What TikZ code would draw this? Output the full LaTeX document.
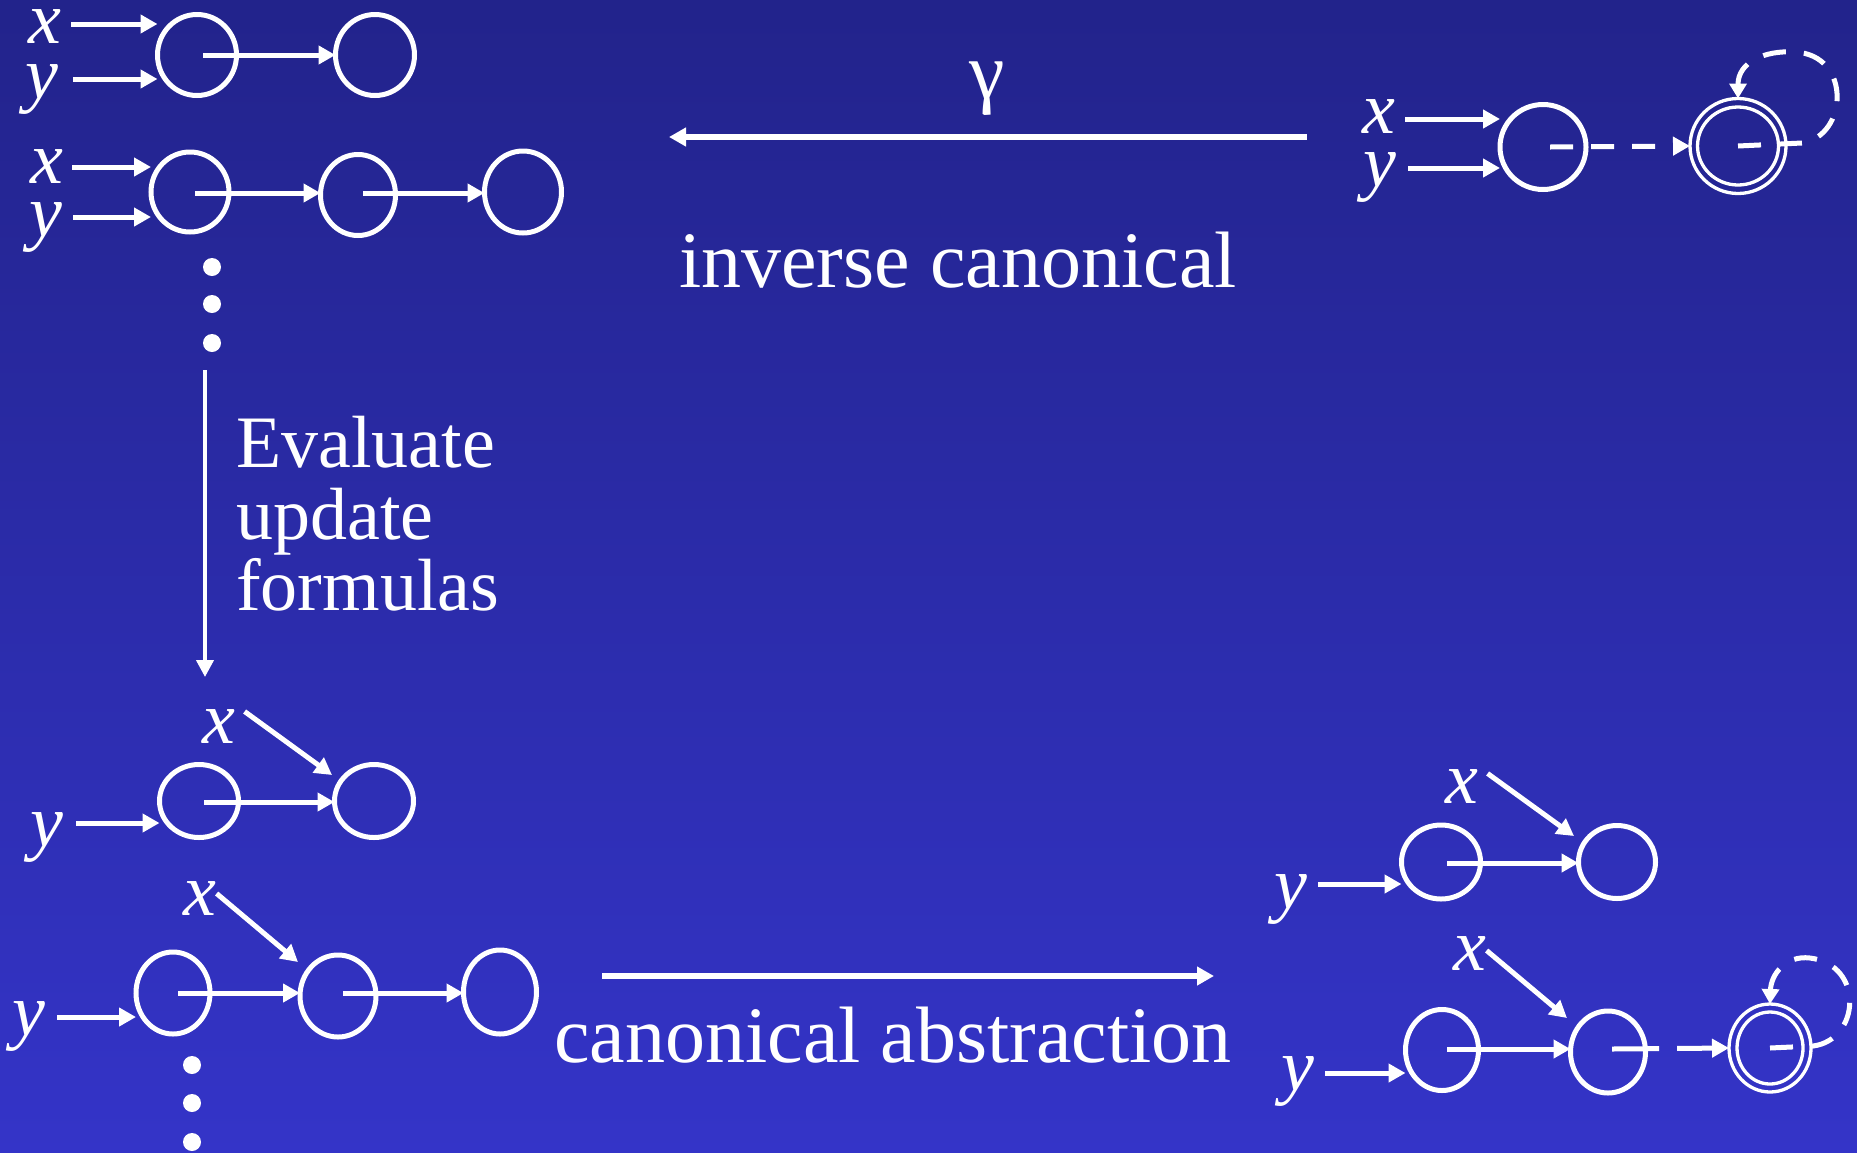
\documentclass[tikz,border=0pt]{standalone}
\usepackage{fontspec}
\setmainfont{Liberation Serif}
\usetikzlibrary{arrows.meta,shapes.geometric,calc}
\definecolor{bgtop}{RGB}{34,35,139}
\definecolor{bgbot}{RGB}{52,52,200}
\tikzset{
  ell/.style={ellipse, draw=white, line width=5pt, inner sep=0pt, outer sep=0pt},
  dbl/.style={ellipse, draw=white, line width=3.3pt, inner sep=0pt, outer sep=0pt},
  arr/.style={draw=white, line width=5pt, -{Triangle[length=17pt,width=18pt]}},
  darr/.style={arr, dash pattern=on 23pt off 18pt},
  lbl/.style={text=white, font=\fontsize{74}{74}\selectfont\itshape, inner sep=0pt, anchor=base, text height=33pt},
  xl/.style={lbl, text depth=0pt},
  yl/.style={lbl, text depth=16pt},
  big/.style={text=white, font=\fontsize{80}{80}\selectfont, inner sep=0pt, anchor=base west},
  mid/.style={text=white, font=\fontsize{74}{72}\selectfont, inner sep=0pt, anchor=base west},
  dotn/.style={circle, fill=white, minimum size=18pt, inner sep=0pt},
}
\begin{document}
\begin{tikzpicture}[x=1pt,y=-1pt]
\shade[top color=bgtop, bottom color=bgbot] (0,0) rectangle (1857,1152);
\useasboundingbox (0,0) rectangle (1857,1152);

% ---------- group A (top left, 2 nodes)
\node[ell, minimum width=79pt, minimum height=81pt] (A1) at (197,55) {};
\node[ell, minimum width=79pt, minimum height=81pt] (A2) at (375,55) {};
\node[xl] (Ax) at (45,43) {x};
\node[yl] (Ay) at (42,98) {y};
\coordinate (Axs) at (71,24);
\coordinate (Ays) at (73,79);
\draw[arr] (Axs) -- (Axs -| A1.west);
\draw[arr] (Ays) -- (Ays -| A1.west);
\draw[arr] ([xshift=6pt]A1.center) -- (A2.west);

% ---------- group B (top left, 3 nodes)
\node[ell, minimum width=78pt, minimum height=80pt] (B1) at (190,192) {};
\node[ell, minimum width=75pt, minimum height=81pt] (B2) at (358,195) {};
\node[ell, minimum width=77pt, minimum height=82pt] (B3) at (523,192) {};
\node[xl] (Bx) at (47,183) {x};
\node[yl] (By) at (46,236) {y};
\coordinate (Bxs) at (72,167);
\coordinate (Bys) at (73,217);
\draw[arr] (Bxs) -- (Bxs -| B1.west);
\draw[arr] (Bys) -- (Bys -| B1.west);
\draw[arr] ($(B1.center)+(5,1)$) -- (B2.west |- 0,193);
\draw[arr] ($(B2.center)+(5,-2)$) -- (B3.west |- 0,193);
\node[dotn] (Bd1) at (212,267) {};
\node[dotn] (Bd2) at (212,304) {};
\node[dotn] (Bd3) at (212,343) {};

% ---------- evaluate arrow
\coordinate (evs) at (205,370);
\coordinate (eve) at (205,677);
\draw[draw=white, line width=4pt, -{Triangle[length=17pt,width=17pt]}] (evs) -- (eve);
\node[mid] (ev1) at (236,467) {Evaluate};
\node[mid] (ev2) at (236,539) {update};
\node[mid] (ev3) at (236,610) {formulas};

% ---------- group C
\node[ell, minimum width=79pt, minimum height=73pt] (C1) at (199,801) {};
\node[ell, minimum width=79pt, minimum height=73pt] (C2) at (374,801) {};
\node[xl] (Cx) at (219,743) {x};
\node[yl] (Cy) at (47,846) {y};
\coordinate (Cys) at (76,823);
\draw[arr] (Cys) -- (Cys -| C1.west);
\draw[arr] ($(Cx.east)+(9,-15)$) -- ($(C2.center)+(-42,-26)$);
\draw[arr] ($(C1.center)+(5,1)$) -- (C2.west |- 0,802);

% ---------- group D
\node[ell, minimum width=74pt, minimum height=82pt] (D1) at (173,993) {};
\node[ell, minimum width=76pt, minimum height=82pt] (D2) at (338,996) {};
\node[ell, minimum width=73pt, minimum height=84pt] (D3) at (500,992) {};
\node[xl] (Dx) at (200,915) {x};
\node[yl] (Dy) at (29,1035) {y};
\coordinate (Dys) at (57,1017);
\draw[arr] (Dys) -- (Dys -| D1.west);
\draw[arr] ($(Dx.east)+(0,-5)$) -- ($(D2.center)+(-40,-34)$);
\draw[arr] ($(D1.center)+(5,0)$) -- (D2.west |- 0,993);
\draw[arr] ($(D2.center)+(5,-3)$) -- (D3.west |- 0,993);
\node[dotn] (Dd1) at (192,1065) {};
\node[dotn] (Dd2) at (192,1103) {};
\node[dotn] (Dd3) at (192,1142) {};

% ---------- gamma arrow
\coordinate (gs) at (1307,137);
\coordinate (ge) at (669,137);
\draw[draw=white, line width=6pt, -{Triangle[length=17pt,width=18pt]}] (gs) -- (ge);
\node[text=white, font=\fontsize{80}{80}\selectfont, inner sep=0pt, anchor=base] (gam) at (987,98) {γ};
\node[big] (inv) at (679,287) {inverse canonical};

% ---------- canonical abstraction arrow
\coordinate (cs) at (602,976);
\coordinate (ce) at (1214,976);
\draw[arr, line width=5.5pt] (cs) -- (ce);
\node[big] (cab) at (554,1062) {canonical abstraction};

% ---------- group E (top right)
\node[ell, minimum width=86pt, minimum height=85pt] (E1) at (1543,147) {};
\node[dbl, minimum width=96pt, minimum height=95pt] (E2) at (1738,146) {};
\node[dbl, minimum width=81pt, minimum height=78pt] (E2i) at (1738,146) {};
\node[xl] (Ex) at (1379,133) {x};
\node[yl] (Ey) at (1380,186) {y};
\coordinate (Exs) at (1405,119);
\coordinate (Eys) at (1408,168);
\draw[arr] (Exs) -- (Exs -| E1.west);
\draw[arr] (Eys) -- (Eys -| E1.west);
\draw[darr] ($(E1.center)+(7,0)$) -- (E2.west);
\draw[darr, -{Triangle[length=15pt,width=17pt]}] (E2.center) -- (1802,143)
   .. controls (1848,136) and (1852,55) .. (1795,52)
   .. controls (1765,50) and (1738,62) .. (E2.north);

% ---------- group F
\node[ell, minimum width=79pt, minimum height=74pt] (F1) at (1441,862) {};
\node[ell, minimum width=77pt, minimum height=73pt] (F2) at (1617,862) {};
\node[xl] (Fx) at (1462,803) {x};
\node[yl] (Fy) at (1291,908) {y};
\coordinate (Fys) at (1318,884);
\draw[arr] (Fys) -- (Fys -| F1.west);
\draw[arr] ($(Fx.east)+(9,-13)$) -- ($(F2.center)+(-43,-26)$);
\draw[arr] ($(F1.center)+(6,1)$) -- (F2.west |- 0,863);

% ---------- group G
\node[ell, minimum width=73pt, minimum height=81pt] (G1) at (1442,1050) {};
\node[ell, minimum width=75pt, minimum height=82pt] (G2) at (1608,1052) {};
\node[dbl, minimum width=82pt, minimum height=88pt] (G3) at (1770,1048) {};
\node[dbl, minimum width=66pt, minimum height=72pt] (G3i) at (1770,1048) {};
\node[xl] (Gx) at (1470,970) {x};
\node[yl] (Gy) at (1298,1090) {y};
\coordinate (Gys) at (1325,1073);
\draw[arr] (Gys) -- (Gys -| G1.west);
\draw[arr] ($(Gx.east)+(0,-3)$) -- ($(G2.center)+(-41,-34)$);
\draw[arr] ($(G1.center)+(5,-1)$) -- (G2.west |- 0,1049);
\draw[arr, dash pattern=on 47pt off 18pt] ($(G2.center)+(4,-3)$) -- (G3.west);
\draw[darr, -{Triangle[length=15pt,width=17pt]}] (G3.center) -- (1813,1046)
   .. controls (1860,1040) and (1865,965) .. (1810,958)
   .. controls (1785,955) and (1771,975) .. (G3.north);
\end{tikzpicture}
\end{document}
